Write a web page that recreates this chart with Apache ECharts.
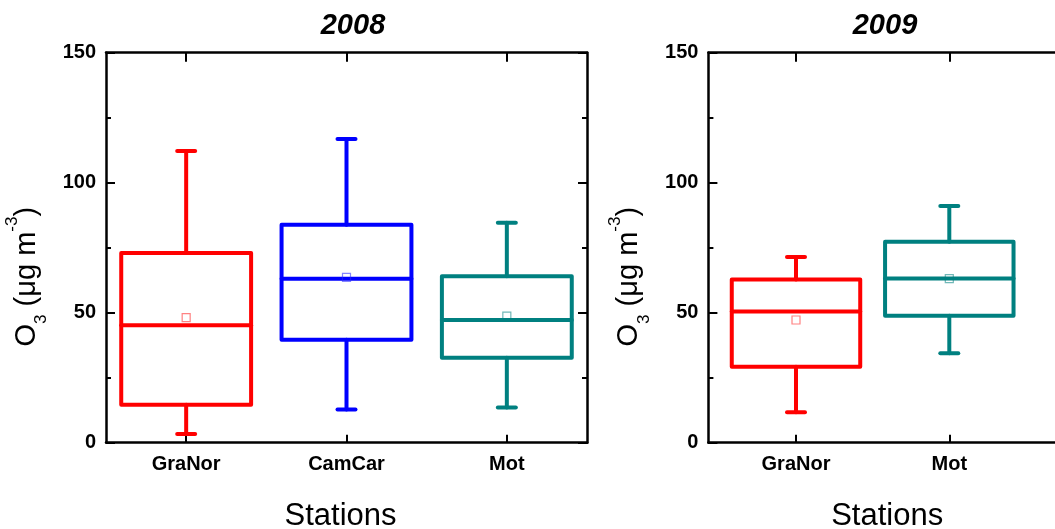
<!DOCTYPE html>
<html>
<head>
<meta charset="utf-8">
<script src="https://cdn.jsdelivr.net/npm/echarts@6/dist/echarts.min.js"></script>
<style>
html,body{margin:0;padding:0;background:#fff;}
#chart{width:1055px;height:529px;}
</style>
</head>
<body>
<div id="chart"></div>
<script>
// ---- Data ----
const cats2008 = ['GraNor', 'CamCar', 'Mot'];
const low2008 = [3.3, 12.8, 13.5];
const q1_2008 = [14.6, 39.6, 32.7];
const med2008 = [45.2, 63.1, 47.2];
const q3_2008 = [73.0, 83.8, 64.0];
const high2008 = [112.2, 116.8, 84.6];
const mean2008 = [48.1, 63.6, 48.7];

const cats2009 = ['GraNor', 'Mot'];
const pos2009 = [1, 2];
const low2009 = [11.7, 34.4];
const q1_2009 = [29.2, 48.8];
const med2009 = [50.5, 63.2];
const q3_2009 = [62.8, 77.3];
const high2009 = [71.4, 91.0];
const mean2009 = [47.2, 63.1];

const yTicks = [0, 50, 100, 150];

const colors2008 = ['#ff0000', '#0000ff', '#008080'];
const colors2009 = ['#ff0000', '#008080'];
const meanColors2008 = ['rgba(255,60,60,0.8)', 'rgba(40,40,255,0.7)', 'rgba(0,128,128,0.7)'];
const meanColors2009 = ['rgba(255,60,60,0.8)', 'rgba(0,128,128,0.7)'];

const FONT = 'Arial, "Liberation Sans", Helvetica, sans-serif';

function makeBoxRender(colors, frac) {
  return function (params, api) {
    const x = api.value(0);
    const pLow = api.coord([x, api.value(1)]);
    const pQ1 = api.coord([x, api.value(2)]);
    const pMed = api.coord([x, api.value(3)]);
    const pQ3 = api.coord([x, api.value(4)]);
    const pHigh = api.coord([x, api.value(5)]);
    const w = api.size([1, 0])[0] * frac;
    const cx = pLow[0];
    const cap = 9;
    const c = colors[params.dataIndex];
    const st = { stroke: c, lineWidth: 4, fill: null, lineJoin: 'round', lineCap: 'round' };
    return {
      type: 'group',
      children: [
        { type: 'line', shape: { x1: cx, y1: pQ3[1], x2: cx, y2: pHigh[1] }, style: st },
        { type: 'line', shape: { x1: cx, y1: pQ1[1], x2: cx, y2: pLow[1] }, style: st },
        { type: 'line', shape: { x1: cx - cap, y1: pHigh[1], x2: cx + cap, y2: pHigh[1] }, style: st },
        { type: 'line', shape: { x1: cx - cap, y1: pLow[1], x2: cx + cap, y2: pLow[1] }, style: st },
        { type: 'rect', shape: { x: cx - w / 2, y: pQ3[1], width: w, height: pQ1[1] - pQ3[1] }, style: Object.assign({}, st, { fill: 'rgba(0,0,0,0)' }) },
        { type: 'line', shape: { x1: cx - w / 2, y1: pMed[1], x2: cx + w / 2, y2: pMed[1] }, style: st }
      ]
    };
  };
}

const axisLineStyle = { color: '#000', width: 2.5 };

function leftY(gridIndex) {
  return {
    type: 'value', gridIndex: gridIndex, min: 0, max: 150, interval: 50,
    position: 'left',
    axisLine: { show: true, onZero: false, lineStyle: axisLineStyle },
    axisTick: { show: true, inside: true, length: 9, lineStyle: { color: '#000', width: 2 } },
    minorTick: { show: true, splitNumber: 2, length: 5, lineStyle: { color: '#000', width: 2 } },
    splitLine: { show: false },
    minorSplitLine: { show: false },
    axisLabel: { show: true, margin: 10, color: '#000', fontFamily: FONT, fontWeight: 'bold', fontSize: 20,
      customValues: yTicks },
    name: '{o|O}{sub|3}{o| (μg m}{sup|-3}{o|)}',
    nameLocation: 'middle',
    nameGap: 56,
    nameRotate: 90,
    nameTextStyle: {
      padding: [0, 58, 0, 0],
      rich: {
        o: { fontFamily: FONT, fontSize: 29, color: '#000', lineHeight: 46, verticalAlign: 'middle' },
        sub: { fontFamily: FONT, fontSize: 17, color: '#000', lineHeight: 15, verticalAlign: 'bottom' },
        sup: { fontFamily: FONT, fontSize: 17, color: '#000', lineHeight: 17, verticalAlign: 'top' }
      }
    }
  };
}

function rightY(gridIndex) {
  return {
    type: 'value', gridIndex: gridIndex, min: 0, max: 150, interval: 50,
    position: 'right',
    axisLine: { show: true, onZero: false, lineStyle: axisLineStyle },
    axisTick: { show: true, inside: true, length: 9, lineStyle: { color: '#000', width: 2 } },
    minorTick: { show: true, splitNumber: 2, length: 5, lineStyle: { color: '#000', width: 2 } },
    splitLine: { show: false },
    axisLabel: { show: false }
  };
}

const x2009min = 1 - 87.6 / 153.3;
const x2009max = x2009min + 357.6 / 153.3;

const titleStyle = { fontFamily: FONT, fontSize: 29, fontWeight: 'bold', fontStyle: 'italic', color: '#000' };
const nameStyle = { fontFamily: FONT, fontSize: 31, color: '#000' };

const option = {
  backgroundColor: '#fff',
  animation: false,
  title: [
    { text: '2008', left: 353, top: 11, textAlign: 'center', padding: 0, textStyle: titleStyle },
    { text: '2009', left: 885, top: 11, textAlign: 'center', padding: 0, textStyle: titleStyle }
  ],
  grid: [
    { left: 106, top: 52.7, width: 481, height: 390, containLabel: false, outerBoundsMode: 'none' },
    { left: 708.4, top: 52.7, width: 357.6, height: 390, containLabel: false, outerBoundsMode: 'none' }
  ],
  xAxis: [
    { type: 'category', gridIndex: 0, data: cats2008, boundaryGap: true, position: 'bottom',
      axisLine: { show: true, onZero: false, lineStyle: axisLineStyle },
      axisTick: { show: true, inside: true, alignWithLabel: true, length: 8, lineStyle: { color: '#000', width: 2 } },
      axisLabel: { color: '#000', fontFamily: FONT, fontWeight: 'bold', fontSize: 20, margin: 12 },
      splitLine: { show: false },
      name: 'Stations', nameLocation: 'middle', nameGap: 58,
      nameTextStyle: Object.assign({ padding: [0, 12, 0, 0] }, nameStyle) },
    { type: 'category', gridIndex: 0, data: cats2008, boundaryGap: true, position: 'top',
      axisLine: { show: true, onZero: false, lineStyle: axisLineStyle },
      axisTick: { show: true, inside: true, alignWithLabel: true, length: 9, lineStyle: { color: '#000', width: 2 } },
      axisLabel: { show: false }, splitLine: { show: false } },
    { type: 'value', gridIndex: 1, min: x2009min, max: x2009max, position: 'bottom',
      axisLine: { show: true, onZero: false, lineStyle: axisLineStyle },
      axisTick: { show: true, inside: true, length: 8, customValues: pos2009, lineStyle: { color: '#000', width: 2 } },
      axisLabel: { color: '#000', fontFamily: FONT, fontWeight: 'bold', fontSize: 20, margin: 12,
        customValues: pos2009, formatter: function (v) { return cats2009[Math.round(v) - 1]; } },
      splitLine: { show: false },
      name: 'Stations', nameLocation: 'middle', nameGap: 58,
      nameTextStyle: nameStyle },
    { type: 'value', gridIndex: 1, min: x2009min, max: x2009max, position: 'top',
      axisLine: { show: true, onZero: false, lineStyle: axisLineStyle },
      axisTick: { show: true, inside: true, length: 9, customValues: pos2009, lineStyle: { color: '#000', width: 2 } },
      axisLabel: { show: false }, splitLine: { show: false } }
  ],
  yAxis: [leftY(0), rightY(0), leftY(1), rightY(1)],
  series: [
    { type: 'custom', xAxisIndex: 0, yAxisIndex: 0,
      renderItem: makeBoxRender(colors2008, 0.81),
      encode: { x: 0, y: [1, 2, 3, 4, 5] },
      data: cats2008.map((c, i) => [i, low2008[i], q1_2008[i], med2008[i], q3_2008[i], high2008[i]]),
      z: 2 },
    { type: 'scatter', xAxisIndex: 0, yAxisIndex: 0, symbol: 'rect', symbolSize: 8,
      data: cats2008.map((c, i) => ({ value: [i, mean2008[i]],
        itemStyle: { color: 'rgba(0,0,0,0)', borderColor: meanColors2008[i], borderWidth: 1.2 } })),
      z: 3 },
    { type: 'custom', xAxisIndex: 2, yAxisIndex: 2,
      renderItem: makeBoxRender(colors2009, 0.838),
      encode: { x: 0, y: [1, 2, 3, 4, 5] },
      data: cats2009.map((c, i) => [pos2009[i], low2009[i], q1_2009[i], med2009[i], q3_2009[i], high2009[i]]),
      z: 2 },
    { type: 'scatter', xAxisIndex: 2, yAxisIndex: 2, symbol: 'rect', symbolSize: 8,
      data: cats2009.map((c, i) => ({ value: [pos2009[i], mean2009[i]],
        itemStyle: { color: 'rgba(0,0,0,0)', borderColor: meanColors2009[i], borderWidth: 1.2 } })),
      z: 3 }
  ]
};

const chart = echarts.init(document.getElementById('chart'), null, { renderer: 'canvas' });
chart.setOption(option);
</script>
</body>
</html>
